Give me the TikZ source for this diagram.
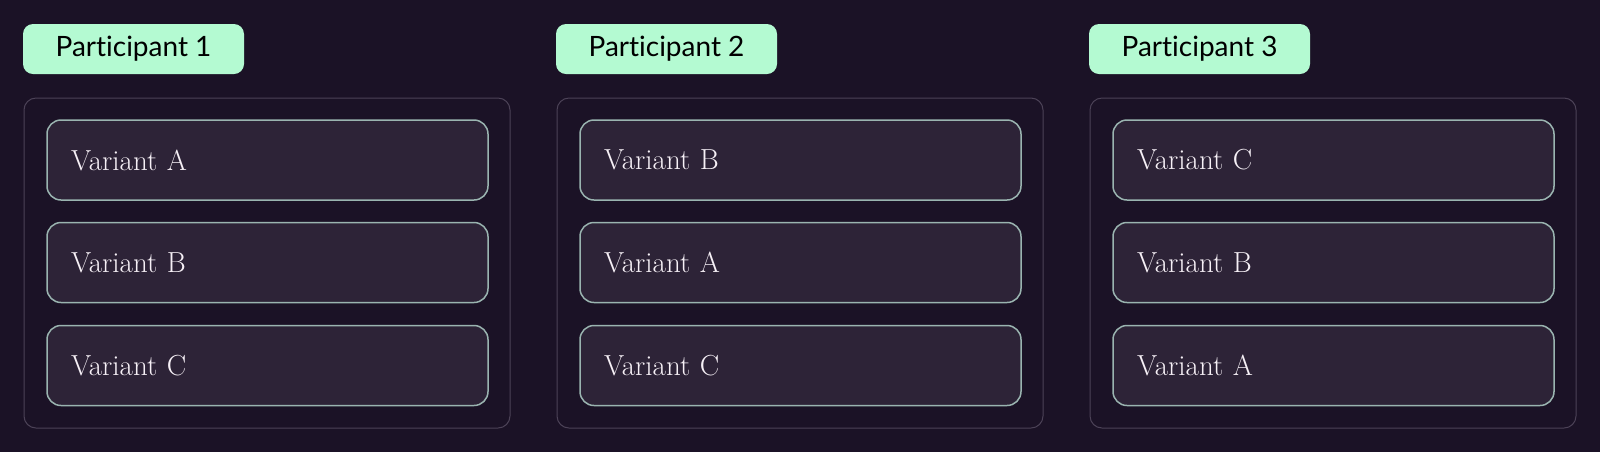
\documentclass[tikz,border=0pt]{standalone}
\usepackage{fontspec}
\setmainfont{Latin Modern Roman}
\newfontfamily\labelfont[Ligatures=NoCommon]{Lato}
\usetikzlibrary{positioning}

\definecolor{bgdark}{HTML}{1B1226}
\definecolor{cardfill}{HTML}{2D2337}
\definecolor{cardline}{HTML}{9AB4B0}
\definecolor{panelline}{HTML}{4C4257}
\definecolor{mint}{HTML}{B4FAD2}
\definecolor{inkwhite}{HTML}{F6F0F6}

\tikzset{
  pill/.style={fill=mint, rounded corners=5pt, minimum width=110.5pt,
    minimum height=25pt, inner sep=0pt, font=\labelfont\fontsize{14}{16}\selectfont,
    text=black},
  panel/.style={draw=panelline, line width=0.5pt, rounded corners=6pt,
    minimum width=243pt, minimum height=165pt, inner sep=0pt},
  variant/.style={draw=cardline, fill=cardfill, line width=0.75pt,
    rounded corners=7pt, minimum height=40pt, inner xsep=12pt, inner ysep=0pt,
    text width=196.5pt, align=left, text=inkwhite,
    font=\fontsize{14.5}{16}\selectfont}
}

\begin{document}
\begin{tikzpicture}[x=0.5pt, y=-0.5pt]

		% --- fundo
		\fill[bgdark] (0,0) rectangle (1600,452);
		\useasboundingbox (0,0) rectangle (1600,452);

		% --- Participant 1
		\node[pill]  (P1) at (133.5,49) {Participant 1};
		\node[panel] (B1) at (267,263) {};
		\node[variant] (V1a) at (267.5,160) {Variant A};
		\node[variant] (V1b) at (267.5,262.5) {Variant B};
		\node[variant] (V1c) at (267.5,365.5) {Variant C};

		% --- Participant 2
		\node[pill]  (P2) at (666.5,49) {Participant 2};
		\node[panel] (B2) at (800,263) {};
		\node[variant] (V2b) at (800.5,160) {Variant B};
		\node[variant] (V2a) at (800.5,262.5) {Variant A};
		\node[variant] (V2c) at (800.5,365.5) {Variant C};

		% --- Participant 3
		\node[pill]  (P3) at (1199.5,49) {Participant 3};
		\node[panel] (B3) at (1333,263) {};
		\node[variant] (V3c) at (1333.5,160) {Variant C};
		\node[variant] (V3b) at (1333.5,262.5) {Variant B};
		\node[variant] (V3a) at (1333.5,365.5) {Variant A};

	\end{tikzpicture}
\end{document}
